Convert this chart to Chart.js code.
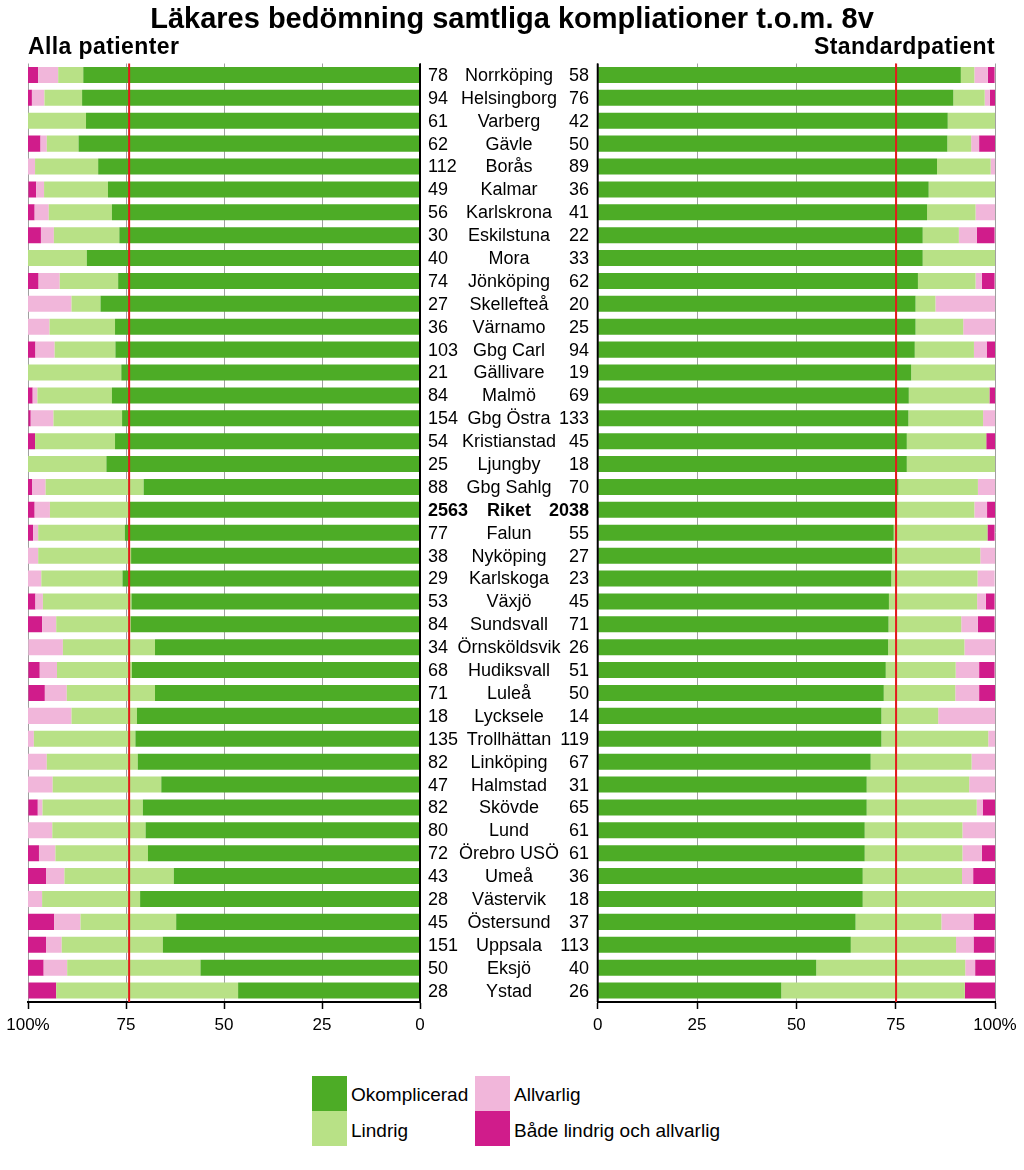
<!DOCTYPE html>
<html>
<head>
<meta charset="utf-8">
<script src="https://cdn.jsdelivr.net/npm/chart.js@4/dist/chart.umd.min.js"></script>
<style>
  html, body { margin: 0; padding: 0; background: #fff; }
  #wrap { position: relative; width: 1024px; height: 1170px; font-family: "Liberation Sans", Arial, sans-serif; color: #000; overflow: hidden; }
  #title { position: absolute; left: 0; width: 1024px; top: 1px; text-align: center; font-weight: bold; font-size: 29px; line-height: 34px; }
  .sub { position: absolute; top: 33px; font-weight: bold; font-size: 23px; letter-spacing: 0.4px; line-height: 27px; }
  canvas { position: absolute; top: 0; }
  .lg-box { position: absolute; width: 35px; height: 35px; }
  .lg-txt { position: absolute; font-size: 19px; line-height: 22px; }
</style>
</head>
<body>
<div id="wrap">
  <canvas id="cL" width="590" height="1050" style="left:0px;width:590px;height:1050px;"></canvas>
  <canvas id="cR" width="437" height="1050" style="left:587px;width:437px;height:1050px;"></canvas>
  <div id="title">Läkares bedömning samtliga kompliationer t.o.m. 8v</div>
  <div class="sub" style="left:28px;">Alla patienter</div>
  <div class="sub" style="right:29px;">Standardpatient</div>
  <div class="lg-box" style="left:312px;top:1076px;background:#4DAC26;"></div>
  <div class="lg-box" style="left:312px;top:1111px;background:#B8E186;"></div>
  <div class="lg-box" style="left:475px;top:1076px;background:#F1B6DA;"></div>
  <div class="lg-box" style="left:475px;top:1111px;background:#D01C8B;"></div>
  <div class="lg-txt" style="left:351px;top:1084px;">Okomplicerad</div>
  <div class="lg-txt" style="left:351px;top:1120px;">Lindrig</div>
  <div class="lg-txt" style="left:514px;top:1084px;">Allvarlig</div>
  <div class="lg-txt" style="left:514px;top:1120px;">Både lindrig och allvarlig</div>
</div>
<script>
const hospitals = ["Norrköping","Helsingborg","Varberg","Gävle","Borås","Kalmar","Karlskrona","Eskilstuna","Mora","Jönköping","Skellefteå","Värnamo","Gbg Carl","Gällivare","Malmö","Gbg Östra","Kristianstad","Ljungby","Gbg Sahlg","Riket","Falun","Nyköping","Karlskoga","Växjö","Sundsvall","Örnsköldsvik","Hudiksvall","Luleå","Lycksele","Trollhättan","Linköping","Halmstad","Skövde","Lund","Örebro USÖ","Umeå","Västervik","Östersund","Uppsala","Eksjö","Ystad"];
const countAlla = [78,94,61,62,112,49,56,30,40,74,27,36,103,21,84,154,54,25,88,2563,77,38,29,53,84,34,68,71,18,135,82,47,82,80,72,43,28,45,151,50,28];
const countStd = [58,76,42,50,89,36,41,22,33,62,20,25,94,19,69,133,45,18,70,2038,55,27,23,45,71,26,51,50,14,119,67,31,65,61,61,36,18,37,113,40,26];

// Alla patienter (%)
const allaOkompl = [85.9,86.2,85.2,87.1,82.1,79.6,78.6,76.7,85.0,77.0,81.5,77.8,77.7,76.2,78.6,76.0,77.8,80.0,70.5,74.2,75.3,73.7,75.9,73.6,73.8,67.6,73.5,67.6,72.2,72.6,72.0,66.0,70.7,70.0,69.4,62.8,71.4,62.2,65.6,56.0,46.4];
const allaLindrig = [6.4,9.6,14.8,8.1,16.1,16.3,16.1,16.7,15.0,14.9,7.4,16.7,15.5,23.8,19.0,17.5,20.4,20.0,25.0,20.2,22.1,23.7,20.7,22.6,19.0,23.5,19.1,22.5,16.7,25.9,23.2,27.7,25.6,23.8,23.6,27.9,25.0,24.4,25.8,34.0,46.4];
const allaAllvarlig = [5.1,3.2,0,1.6,1.8,2.0,3.6,3.3,0,5.4,11.1,5.6,4.9,0,1.2,5.8,0,0,3.4,3.9,1.3,2.6,3.4,1.9,3.6,8.8,4.4,5.6,11.1,1.5,4.9,6.4,1.2,6.2,4.2,4.7,3.6,6.7,4.0,6.0,0];
const allaBade = [2.6,1.1,0,3.2,0,2.0,1.8,3.3,0,2.7,0,0,1.9,0,1.2,0.6,1.9,0,1.1,1.7,1.3,0,0,1.9,3.6,0,2.9,4.2,0,0,0,0,2.4,0,2.8,4.7,0,6.7,4.6,4.0,7.1];

// Standardpatient (%)
const stdOkompl = [91.4,89.5,88.1,88.0,85.4,83.3,82.9,81.8,81.8,80.6,80.0,80.0,79.8,78.9,78.3,78.2,77.8,77.8,75.7,75.1,74.5,74.1,73.9,73.3,73.2,73.1,72.5,72.0,71.4,71.4,68.7,67.7,67.7,67.2,67.2,66.7,66.7,64.9,63.7,55.0,46.2];
const stdLindrig = [3.4,7.9,11.9,6.0,13.5,16.7,12.2,9.1,18.2,14.5,5.0,12.0,14.9,21.1,20.3,18.8,20.0,22.2,20.0,19.7,23.6,22.2,21.7,22.2,18.3,19.2,17.6,18.0,14.3,26.9,25.4,25.8,27.7,24.6,24.6,25.0,33.3,21.6,26.5,37.5,46.2];
const stdAllvarlig = [3.4,1.3,0,2.0,1.1,0,4.9,4.5,0,1.6,15.0,8.0,3.2,0,0,3.0,0,0,4.3,3.2,0,3.7,4.3,2.2,4.2,7.7,5.9,6.0,14.3,1.7,6.0,6.5,1.5,8.2,4.9,2.8,0,8.1,4.4,2.5,0];
const stdBade = [1.7,1.3,0,4.0,0,0,0,4.5,0,3.2,0,0,2.1,0,1.4,0,2.2,0,0,2.0,1.8,0,0,2.2,4.2,0,3.9,4.0,0,0,0,0,3.1,0,3.3,5.6,0,5.4,5.3,5.0,7.7];

const seriesNames = ["Okomplicerad","Lindrig","Allvarlig","Både lindrig och allvarlig"];
const seriesColors = ["#4DAC26","#B8E186","#F1B6DA","#D01C8B"];
const riketIndex = hospitals.indexOf("Riket");
const FONT = '"Liberation Sans", Arial, sans-serif';

function makeDatasets(arrs) {
  return arrs.map((d, k) => ({
    label: seriesNames[k],
    data: d,
    backgroundColor: seriesColors[k],
    borderWidth: 0,
    barPercentage: 0.7,
    categoryPercentage: 1.0
  }));
}

function refLinePlugin(okArr) {
  return {
    id: 'refline',
    afterDatasetsDraw(chart) {
      const ctx = chart.ctx, xs = chart.scales.x, a = chart.chartArea;
      ctx.save();
      const x0 = xs.getPixelForValue(0);
      ctx.strokeStyle = '#000'; ctx.lineWidth = 2;
      ctx.beginPath(); ctx.moveTo(x0, a.top); ctx.lineTo(x0, a.bottom); ctx.stroke();
      const xr = xs.getPixelForValue(okArr[riketIndex]);
      ctx.strokeStyle = '#E41A1C'; ctx.lineWidth = 2;
      ctx.beginPath(); ctx.moveTo(xr, a.top); ctx.lineTo(xr, a.bottom); ctx.stroke();
      ctx.restore();
    }
  };
}

const labelPlugin = {
  id: 'midlabels',
  afterDraw(chart) {
    const ctx = chart.ctx, ys = chart.scales.y;
    ctx.save();
    ctx.fillStyle = '#000';
    ctx.textBaseline = 'middle';
    hospitals.forEach((h, i) => {
      const y = ys.getPixelForValue(i) + 1;
      ctx.font = (i === riketIndex ? 'bold ' : '') + '18px ' + FONT;
      ctx.textAlign = 'left'; ctx.fillText(String(countAlla[i]), 428, y);
      ctx.textAlign = 'center'; ctx.fillText(h, 509, y);
      ctx.textAlign = 'right'; ctx.fillText(String(countStd[i]), 589, y);
    });
    ctx.restore();
  }
};

function makeOptions(reverse, padding) {
  return {
    responsive: false,
    maintainAspectRatio: false,
    animation: false,
    indexAxis: 'y',
    layout: { padding: padding },
    plugins: { legend: { display: false }, tooltip: { enabled: false } },
    scales: {
      x: {
        type: 'linear', min: 0, max: 100, stacked: true, reverse: reverse,
        afterFit(scale) { scale.height = 48; },
        ticks: {
          stepSize: 25, color: '#000', padding: 6,
          font: { size: 17, family: FONT },
          callback: v => (v === 100 ? '100%' : String(v))
        },
        grid: {
          color: c => (c.tick && c.tick.value === 0 ? '#000' : '#A0A0A0'),
          lineWidth: 1, drawTicks: true, tickLength: 7, tickColor: '#000', tickWidth: 1.5
        },
        border: { display: true, color: '#000', width: 2 }
      },
      y: {
        type: 'category', labels: hospitals, stacked: true, display: false
      }
    }
  };
}

new Chart(document.getElementById('cL'), {
  type: 'bar',
  data: { labels: hospitals, datasets: makeDatasets([allaOkompl, allaLindrig, allaAllvarlig, allaBade]) },
  options: makeOptions(true, { left: 28, right: 170, top: 63.5, bottom: 0 }),
  plugins: [refLinePlugin(allaOkompl), labelPlugin]
});

new Chart(document.getElementById('cR'), {
  type: 'bar',
  data: { labels: hospitals, datasets: makeDatasets([stdOkompl, stdLindrig, stdAllvarlig, stdBade]) },
  options: makeOptions(false, { left: 4, right: 29, top: 63.5, bottom: 0 }),
  plugins: [refLinePlugin(stdOkompl)]
});
</script>
</body>
</html>
